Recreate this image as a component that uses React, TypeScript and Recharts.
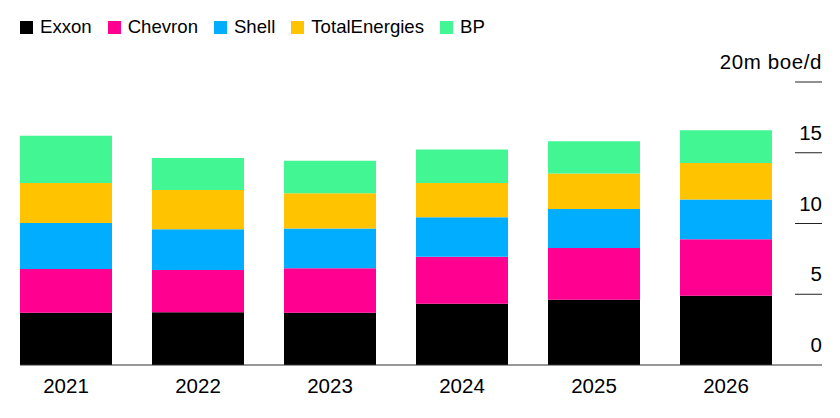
import React from "react";
import { BarChart, Bar, XAxis, YAxis } from "recharts";

// Daily output, million barrels of oil equivalent
const years = ["2021", "2022", "2023", "2024", "2025", "2026"];
const exxon = [3.7, 3.72, 3.7, 4.33, 4.61, 4.9];
const chevron = [3.09, 2.99, 3.14, 3.32, 3.65, 3.99];
const shell = [3.25, 2.88, 2.8, 2.8, 2.76, 2.8];
const totalEnergies = [2.83, 2.78, 2.5, 2.42, 2.52, 2.59];
const bp = [3.34, 2.26, 2.3, 2.36, 2.28, 2.31];
const yTicks = [0, 5, 10, 15, 20];

const series = [
  { key: "exxon", name: "Exxon", color: "#000000" },
  { key: "chevron", name: "Chevron", color: "#ff0090" },
  { key: "shell", name: "Shell", color: "#00adff" },
  { key: "total", name: "TotalEnergies", color: "#ffc300" },
  { key: "bp", name: "BP", color: "#42f694" },
];

const data = years.map((year, i) => ({
  year,
  exxon: exxon[i],
  chevron: chevron[i],
  shell: shell[i],
  total: totalEnergies[i],
  bp: bp[i],
}));

const FONT = "'Liberation Sans', Arial, Helvetica, sans-serif";

function YTick(props: any) {
  const { x, y, payload } = props;
  const v = payload.value;
  const label = v === 20 ? "20m boe/d" : String(v);
  return (
    <g>
      {v === 0 ? (
        <line x1={20} x2={x + 30} y1={y} y2={y} stroke="#333" strokeWidth={1} />
      ) : (
        <line x1={x + 3} x2={x + 30} y1={y} y2={y} stroke="#222" strokeWidth={1} />
      )}
      <text
        x={x + 30}
        y={y - 13}
        textAnchor="end"
        fontSize={20.5}
        letterSpacing={v === 20 ? 0.6 : 0}
        fill="#000"
        fontFamily={FONT}
      >
        {label}
      </text>
    </g>
  );
}

export default function App() {
  return (
    <div style={{ position: "absolute", left: 0, top: 0, width: 840, height: 418, background: "#fff", fontFamily: FONT }}>
      <div
        style={{
          position: "absolute",
          top: 17,
          left: 20,
          height: 20,
          display: "flex",
          alignItems: "center",
          fontSize: 18.6,
          lineHeight: "20px",
          color: "#000",
        }}
      >
        {series.map((s) => (
          <div key={s.key} style={{ display: "flex", alignItems: "center", marginRight: 16 }}>
            <span style={{ width: 13, height: 13, background: s.color, display: "inline-block", marginRight: 7 }} />
            <span>{s.name}</span>
          </div>
        ))}
      </div>
      <BarChart
        width={840}
        height={418}
        data={data}
        margin={{ top: 82, right: 0, bottom: 0, left: 0 }}
        barSize={92}
      >
        <XAxis
          dataKey="year"
          height={53}
          axisLine={false}
          tickLine={false}
          tickSize={0}
          tickMargin={13}
          tick={{ fontSize: 20.5, fill: "#000", fontFamily: FONT }}
        />
        <YAxis
          orientation="right"
          width={48}
          domain={[0, 20]}
          ticks={yTicks}
          axisLine={false}
          tickLine={false}
          tickSize={0}
          tickMargin={0}
          tick={<YTick />}
        />
        {series.map((s) => (
          <Bar key={s.key} dataKey={s.key} name={s.name} stackId="a" fill={s.color} isAnimationActive={false} />
        ))}
      </BarChart>
    </div>
  );
}
